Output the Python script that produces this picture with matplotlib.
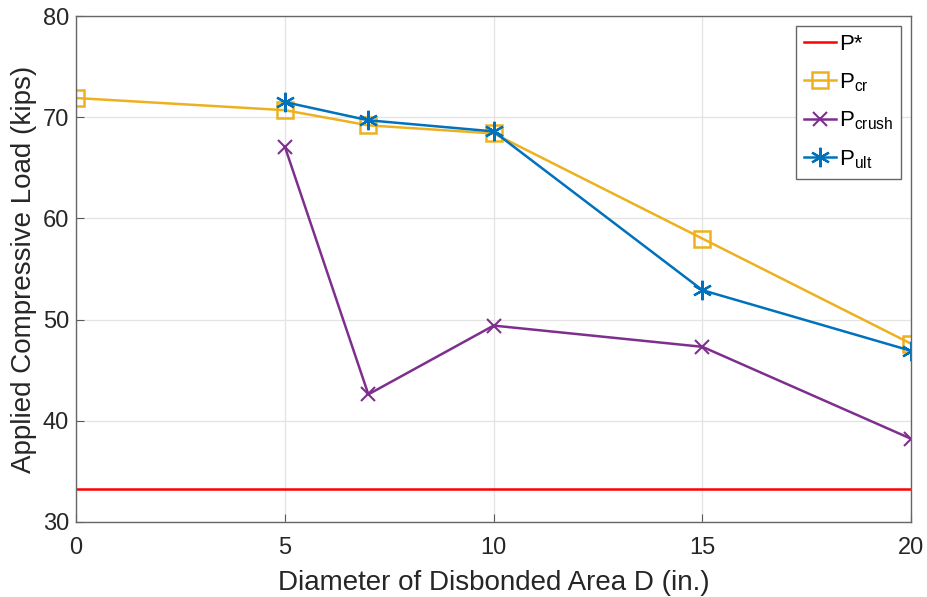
import matplotlib
matplotlib.use('Agg')
import matplotlib.pyplot as plt

plt.rcParams['font.family'] = ['Liberation Sans', 'DejaVu Sans']
plt.rcParams['mathtext.fontset'] = 'custom'
plt.rcParams['mathtext.rm'] = 'Liberation Sans'
plt.rcParams['mathtext.it'] = 'Liberation Sans:italic'

# Diameter of disbonded area (in.)
d_cr = [0, 5, 7, 10, 15, 20]
d_rest = [5, 7, 10, 15, 20]

# Loads (kips)
p_star = 33.2
p_cr = [71.9, 70.7, 69.2, 68.4, 58.0, 47.6]
p_crush = [67.1, 42.6, 49.4, 47.3, 38.2]
p_ult = [71.5, 69.7, 68.6, 52.9, 46.9]

c_red = (1.0, 0.0, 0.0)
c_yel = (0.929, 0.694, 0.125)
c_pur = (0.494, 0.184, 0.556)
c_blu = (0.0, 0.447, 0.741)
c_txt = (0.15, 0.15, 0.15)

fig = plt.figure(figsize=(9.27, 5.97), dpi=100)
ax = fig.add_axes([0.082, 0.126, 0.901, 0.847])

ax.plot([0, 20], [p_star, p_star], color=c_red, lw=1.8, label='P*')
ax.plot(d_cr, p_cr, color=c_yel, lw=1.8, marker='s', ms=11, mfc='none',
        mew=1.8, label=r'P$_{\rm cr}$')
ax.plot(d_rest, p_crush, color=c_pur, lw=1.8, marker='x', ms=10, mew=1.5,
        label=r'P$_{\rm crush}$')
ax.plot(d_rest, p_ult, color=c_blu, lw=1.8, marker=(6, 2, 0), ms=14, mew=1.6,
        label=r'P$_{\rm ult}$')

ax.set_xlim(0, 20)
ax.set_ylim(30, 80)
ax.set_xticks([0, 5, 10, 15, 20])
ax.set_yticks([30, 40, 50, 60, 70, 80])
ax.grid(True, color=(0.89, 0.89, 0.89), lw=0.9)
ax.set_axisbelow(True)
ax.tick_params(direction='in', length=6, labelsize=17, color=(0.35, 0.35, 0.35),
               labelcolor=c_txt)
ax.tick_params(axis='y', pad=5)
ax.tick_params(axis='x', pad=11)
for s in ax.spines.values():
    s.set_color((0.4, 0.4, 0.4))
    s.set_linewidth(1.0)

ax.set_xlabel('Diameter of Disbonded Area D (in.)', fontsize=20, color=c_txt,
              labelpad=8)
ax.set_ylabel('Applied Compressive Load (kips)', fontsize=20, color=c_txt,
              labelpad=4)

leg = ax.legend(loc='upper right', bbox_to_anchor=(0.988, 0.98), fontsize=16,
                fancybox=False, framealpha=1, edgecolor=(0.4, 0.4, 0.4),
                handlelength=1.45, handletextpad=0.15, borderpad=0.35,
                labelspacing=0.72, borderaxespad=0)
leg.get_frame().set_linewidth(1.0)

fig.savefig('out.png', dpi=100)
